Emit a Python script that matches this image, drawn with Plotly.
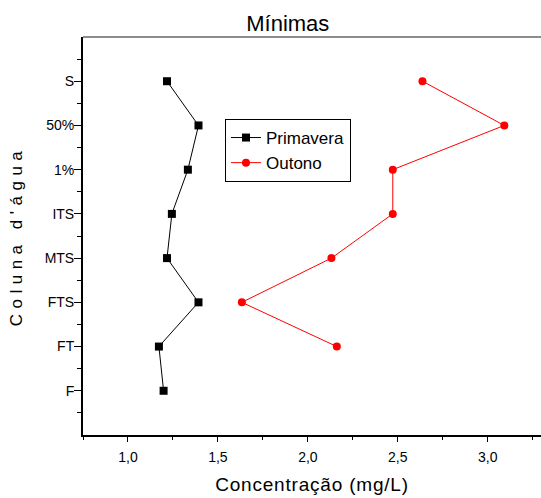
import plotly.graph_objects as go

categories = ["F", "FT", "FTS", "MTS", "ITS", "1%", "50%", "S"]
prim_cats = ["S", "50%", "1%", "ITS", "MTS", "FTS", "FT", "F"]
prim_vals = [1.217, 1.392, 1.333, 1.244, 1.217, 1.392, 1.172, 1.198]
out_cats = ["S", "50%", "1%", "ITS", "MTS", "FTS", "FT"]
out_vals = [2.637, 3.092, 2.472, 2.472, 2.131, 1.633, 2.161]

pos = {c: i + 1 for i, c in enumerate(categories)}
FONT = "Liberation Sans, Arial, sans-serif"

fig = go.Figure()
fig.add_trace(go.Scatter(
    x=prim_vals, y=[pos[c] for c in prim_cats], mode="lines+markers", name="Primavera",
    line=dict(color="black", width=1),
    marker=dict(symbol="square", size=8, color="black"),
))
fig.add_trace(go.Scatter(
    x=out_vals, y=[pos[c] for c in out_cats], mode="lines+markers", name="Outono",
    line=dict(color="red", width=1),
    marker=dict(symbol="circle", size=8, color="red"),
))

fig.update_layout(
    width=541, height=498,
    margin=dict(l=83, r=0, t=37, b=63),
    paper_bgcolor="white", plot_bgcolor="white",
    separators=",.",
    font=dict(family=FONT, color="black"),
    title=dict(text="Mínimas", x=0.532, xanchor="center", y=0.954, yanchor="middle",
               font=dict(size=22, family=FONT)),
    showlegend=True,
    legend=dict(x=0.31, y=0.794, xanchor="left", yanchor="top",
                bordercolor="black", borderwidth=1, bgcolor="white",
                font=dict(size=17, family=FONT), tracegroupgap=0,
                itemwidth=30),
    xaxis=dict(
        range=[0.75, 3.296], tick0=1.0, dtick=0.5, tickformat=".1f",
        showgrid=False, zeroline=False,
        showline=True, linecolor="black", linewidth=2,
        ticks="outside", ticklen=5, tickwidth=1, tickcolor="black",
        ticklabelstandoff=3,
        minor=dict(dtick=0.25, tick0=1.0, ticks="outside", ticklen=3, tickcolor="black"),
        tickfont=dict(size=14, family=FONT),
        title=dict(text="<span style='letter-spacing:0.8px'>Concentração (mg/L)</span>",
                   font=dict(size=19, family=FONT), standoff=14),
    ),
    yaxis=dict(
        range=[0, 9], tickvals=[pos[c] for c in categories], ticktext=categories,
        showgrid=False, zeroline=False,
        showline=True, linecolor="black", linewidth=2,
        ticks="outside", ticklen=7, tickwidth=1, tickcolor="black",
        ticklabelstandoff=-3,
        minor=dict(tickvals=[i + 0.5 for i in range(9)], ticks="outside", ticklen=4, tickcolor="black"),
        tickfont=dict(size=14, family=FONT),
        title=dict(text="<span style='letter-spacing:5.5px'>Coluna d'água</span>",
                   font=dict(size=17, family=FONT), standoff=18),
    ),
    shapes=[dict(type="line", xref="paper", yref="paper", x0=0, x1=1, y0=1, y1=1,
                 line=dict(color="#666666", width=1.5))],
)

fig.write_html("out.html")
